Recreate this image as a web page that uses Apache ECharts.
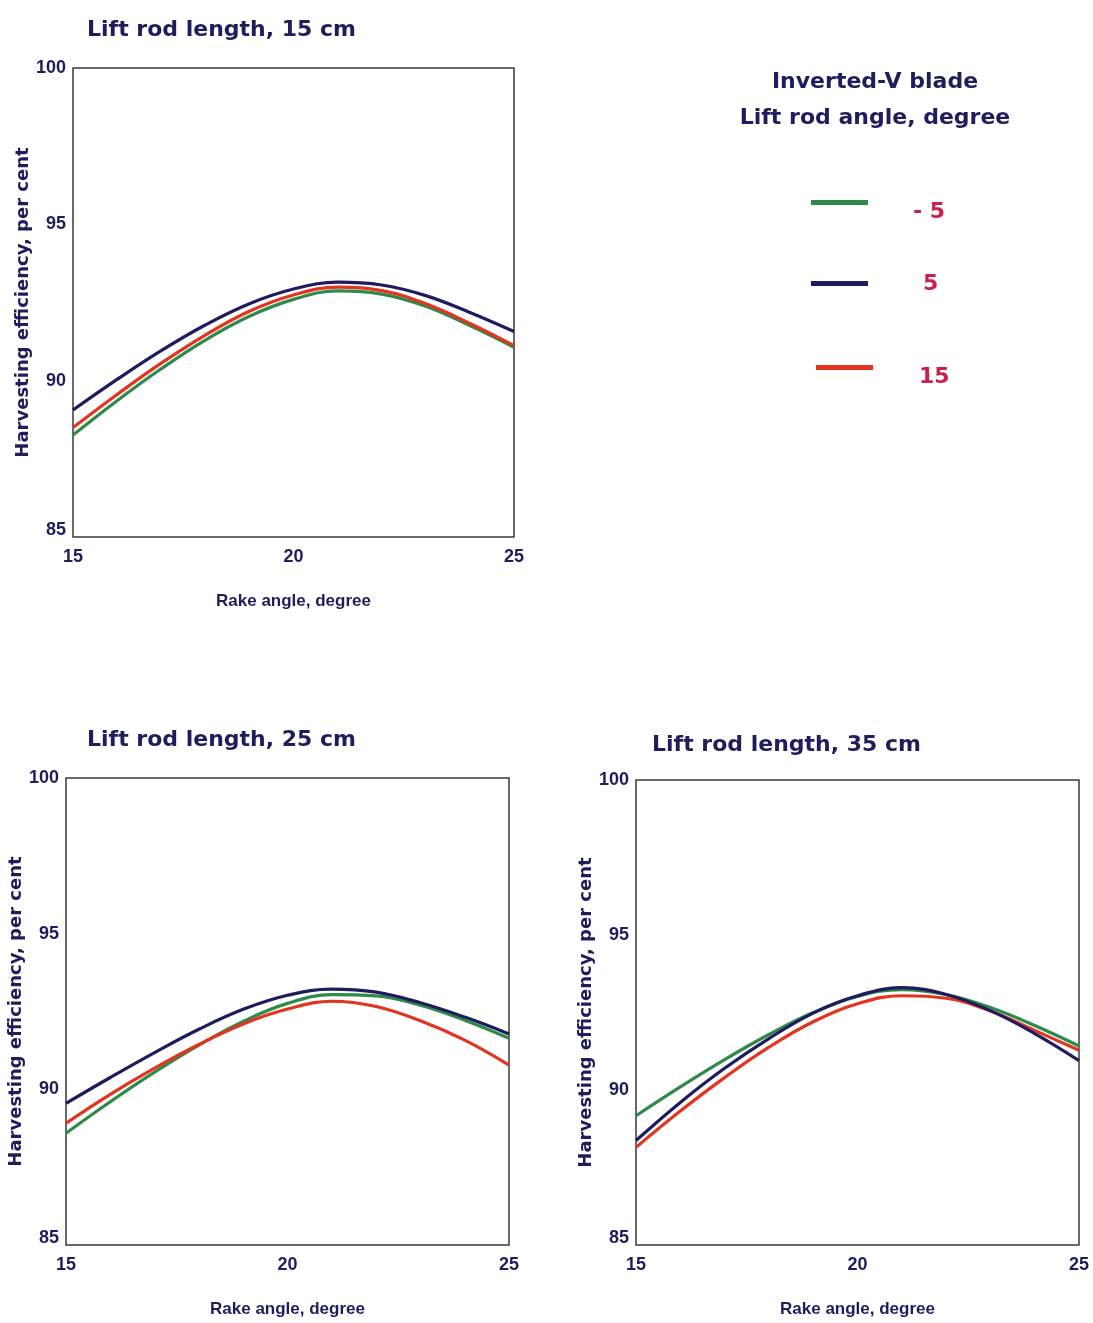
<!DOCTYPE html>
<html>
<head>
<meta charset="utf-8">
<script src="https://cdn.jsdelivr.net/npm/echarts@6/dist/echarts.min.js"></script>
<style>
  html, body { margin: 0; padding: 0; background: #ffffff; }
  #chart { width: 1093px; height: 1323px; }
</style>
</head>
<body>
<div id="chart"></div>
<script>
// Rake angle (degree) on the x axis
const rakeAngles = [15, 16, 17, 18, 19, 20, 21, 22, 23, 24, 25];

// Lift rod angles shown in the legend
const liftRodAngles = ['- 5', '5', '15'];

// Harvesting efficiency, per cent — lift rod length 15 cm
const len15_minus5 = [88.26, 89.36, 90.38, 91.30, 92.06, 92.60, 92.87, 92.77, 92.38, 91.76, 91.07];
const len15_plus5  = [89.06, 90.04, 90.96, 91.78, 92.46, 92.93, 93.15, 93.06, 92.72, 92.18, 91.57];
const len15_plus15 = [88.50, 89.56, 90.56, 91.46, 92.22, 92.74, 92.99, 92.88, 92.46, 91.83, 91.12];

// Lift rod length 25 cm
const len25_minus5 = [88.59, 89.60, 90.55, 91.42, 92.18, 92.76, 93.04, 93.00, 92.70, 92.22, 91.64];
const len25_plus5  = [89.55, 90.38, 91.18, 91.93, 92.57, 93.02, 93.22, 93.12, 92.78, 92.32, 91.78];
const len25_plus15 = [88.91, 89.84, 90.68, 91.44, 92.10, 92.58, 92.83, 92.66, 92.20, 91.58, 90.78];

// Lift rod length 35 cm
const len35_minus5 = [89.17, 90.10, 90.98, 91.79, 92.50, 93.02, 93.24, 93.08, 92.66, 92.08, 91.42];
const len35_plus5  = [88.37, 89.60, 90.70, 91.66, 92.48, 93.04, 93.30, 93.08, 92.56, 91.82, 90.95];
const len35_plus15 = [88.15, 89.32, 90.40, 91.38, 92.20, 92.78, 93.04, 92.96, 92.55, 91.92, 91.28];

const panelTitles = ['Lift rod length, 15 cm', 'Lift rod length, 25 cm', 'Lift rod length, 35 cm'];
const xAxisName = 'Rake angle, degree';
const yAxisName = 'Harvesting efficiency, per cent';

const panels = [
  [len15_minus5, len15_plus5, len15_plus15],
  [len25_minus5, len25_plus5, len25_plus15],
  [len35_minus5, len35_plus5, len35_plus15]
];

const NAVY = '#1f1d5c';
const lineColors = ['#2e8a4a', '#1e1c5e', '#e2341f'];
const boldFont = 'DejaVu Sans';
const tickFont = 'Liberation Sans';

const grids = [
  { left: 73, top: 68, width: 441, height: 469 },
  { left: 66, top: 778, width: 443, height: 467 },
  { left: 636, top: 780, width: 443, height: 465 }
];
const yNameGaps = [40, 38, 36];

const toPairs = (vals) => rakeAngles.map((r, i) => [r, vals[i]]);

// Legend swatches (line samples) and their labels are laid out separately
// so the label can sit slightly lower than its swatch.
const swatchSpots = [
  { left: 806, top: 195 },
  { left: 806, top: 276 },
  { left: 811, top: 360 }
];
const labelSpots = [
  { left: 806, top: 196, pad: 40 },
  { left: 806, top: 268, pad: 50 },
  { left: 811, top: 361, pad: 41 }
];

const swatchLegends = swatchSpots.map((s, k) => ({
  data: [liftRodAngles[k]],
  left: s.left,
  top: s.top,
  icon: 'rect',
  itemWidth: 57,
  itemHeight: 5,
  selectedMode: false,
  formatter: () => '',
  textStyle: { fontSize: 1 }
}));

const labelLegends = labelSpots.map((s, k) => ({
  data: [liftRodAngles[k]],
  left: s.left,
  top: s.top,
  icon: 'rect',
  itemWidth: 57,
  itemHeight: 5,
  selectedMode: false,
  itemStyle: { opacity: 0 },
  lineStyle: { opacity: 0 },
  textStyle: {
    fontFamily: boldFont, fontWeight: 'bold', fontSize: 22, color: '#cc1f4c',
    padding: [0, 0, 0, s.pad]
  }
}));

const option = {
  backgroundColor: '#ffffff',
  animation: false,
  title: [
    { text: panelTitles[0], left: 82, top: 7 },
    { text: panelTitles[1], left: 82, top: 717 },
    { text: panelTitles[2], left: 647, top: 722 },
    { text: 'Inverted-V blade\nLift rod angle, degree', left: 870, top: 59, textAlign: 'center' }
  ].map(t => Object.assign(t, {
    textStyle: { fontFamily: boldFont, fontWeight: 'bold', fontSize: 22, color: NAVY, lineHeight: 36 }
  })),
  legend: swatchLegends.concat(labelLegends),
  grid: grids.map(g => Object.assign({}, g, {
    show: true, borderColor: '#3a3a3a', borderWidth: 1.5, backgroundColor: 'transparent'
  })),
  xAxis: grids.map((g, i) => ({
    type: 'value',
    gridIndex: i,
    min: 15, max: 25, interval: 5,
    name: xAxisName,
    nameLocation: 'middle',
    nameGap: 56,
    nameTextStyle: { fontFamily: tickFont, fontWeight: 'bold', fontSize: 17, color: NAVY },
    axisLine: { show: false },
    axisTick: { show: false },
    splitLine: { show: false },
    axisLabel: { margin: 11, fontFamily: tickFont, fontWeight: 'bold', fontSize: 18, color: NAVY }
  })),
  yAxis: grids.map((g, i) => ({
    type: 'value',
    gridIndex: i,
    min: 85, max: 100, interval: 5,
    name: yAxisName,
    nameLocation: 'middle',
    nameGap: yNameGaps[i],
    nameTextStyle: { fontFamily: boldFont, fontWeight: 'bold', fontSize: 18, color: NAVY },
    axisLine: { show: false },
    axisTick: { show: false },
    splitLine: { show: false },
    axisLabel: {
      margin: 7, fontFamily: tickFont, fontWeight: 'bold', fontSize: 18, color: NAVY,
      formatter: v => (v === 85 ? '{lo|85}' : String(v)),
      rich: { lo: { fontFamily: tickFont, fontWeight: 'bold', fontSize: 18, color: NAVY, padding: [0, 0, 14, 0] } }
    }
  })),
  series: []
};

panels.forEach((set, p) => {
  set.forEach((vals, k) => {
    option.series.push({
      type: 'line',
      name: liftRodAngles[k],
      xAxisIndex: p,
      yAxisIndex: p,
      data: toPairs(vals),
      smooth: 0.4,
      symbol: 'none',
      z: k === 1 ? 3 : 2,
      itemStyle: { color: lineColors[k] },
      lineStyle: { color: lineColors[k], width: 3.2 }
    });
  });
});

const chart = echarts.init(document.getElementById('chart'), null, { renderer: 'canvas' });
chart.setOption(option);
</script>
</body>
</html>
